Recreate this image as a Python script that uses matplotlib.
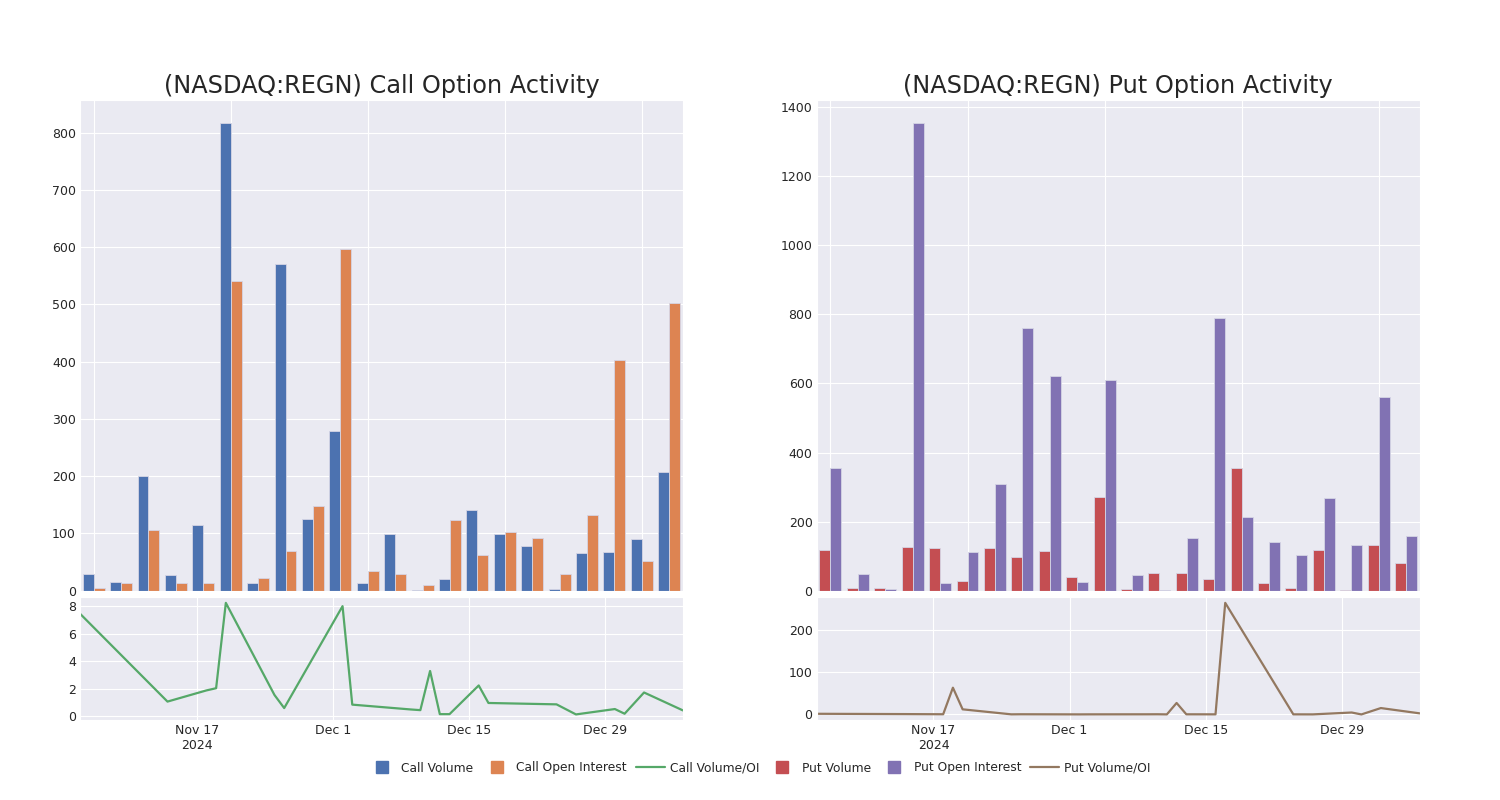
"""
plot.py - REGN call/put option activity (bars + Volume/OI line)
"""

import numpy as np
import pandas as pd
import matplotlib
matplotlib.use("Agg")
import matplotlib.pyplot as plt
from matplotlib.lines import Line2D
import seaborn as sns

# ==================== Data ====================
dates = ["2024-11-05", "2024-11-14", "2024-11-18", "2024-11-19", "2024-11-20",
         "2024-11-25", "2024-11-26", "2024-12-02", "2024-12-03", "2024-12-09",
         "2024-12-10", "2024-12-11", "2024-12-12", "2024-12-13", "2024-12-16",
         "2024-12-17", "2024-12-24", "2024-12-26", "2024-12-30", "2024-12-31",
         "2025-01-02", "2025-01-06"]

call_volume = [29, 15, 200, 28, 115, 816, 13, 571, 126, 278, 14,
               99, 1, 20, 141, 99, 78, 3, 66, 67, 90, 208]
call_oi = [4, 14, 106, 13, 13, 541, 22, 70, 148, 597, 35,
           29, 10, 123, 63, 102, 92, 30, 132, 403, 52, 502]
call_vol_oi = [7.46, 1.08, 1.89, 2.05, 8.24, 1.56, 0.61, 8.0, 0.86, 0.51, 0.46,
               3.3, 0.17, 0.17, 2.25, 0.98, 0.88, 0.15, 0.54, 0.2, 1.74, 0.44]

put_volume = [119, 9, 9, 127, 123, 27, 123, 99, 114, 40, 270,
              4, 52, 52, 35, 355, 22, 8, 119, 3, 131, 81]
put_oi = [355, 47, 5, 1353, 21, 111, 310, 762, 621, 25, 611,
          46, 2, 154, 790, 213, 140, 103, 269, 133, 560, 158]
put_vol_oi = [1.5, 0.8, 0.4, 63, 12, 0.2, 0.4, 0.1, 0.2, 0.3, 0.4,
              0.1, 27, 0.3, 0.2, 263, 0.2, 0.1, 4.5, 0.0, 15, 2.5]

date_ticks = ["2024-11-17", "2024-12-01", "2024-12-15", "2024-12-29"]
date_tick_labels = ["Nov 17\n2024", "Dec 1", "Dec 15", "Dec 29"]

# ==================== Style ====================
sns.set_style("darkgrid")
plt.rcParams['font.family'] = ['DejaVu Sans']
plt.rcParams['xtick.labelsize'] = 9
plt.rcParams['ytick.labelsize'] = 9

pal = sns.color_palette("deep")
C_CALL, C_CALL_OI, C_CALL_LINE = pal[0], pal[1], pal[2]
C_PUT, C_PUT_OI, C_PUT_LINE = pal[3], pal[4], pal[5]

fig = plt.figure(figsize=(15, 8), dpi=100)

dt = pd.to_datetime(dates)
idx = np.arange(len(dates))


def draw_panel(left, vol, oi, ratio, c_vol, c_oi, c_line, title, yticks_line):
    ax_bar = fig.add_axes([left, 0.2616, 0.402, 0.6134])
    ax_line = fig.add_axes([left, 0.1, 0.402, 0.1534])

    # bars on categorical positions
    w = 0.4
    ax_bar.bar(idx - w / 2, vol, width=w, color=c_vol, edgecolor="#d5d5e5", linewidth=0.6)
    ax_bar.bar(idx + w / 2, oi, width=w, color=c_oi, edgecolor="#d5d5e5", linewidth=0.6)
    ax_bar.set_xlim(-0.5, len(idx) - 0.5)
    ax_bar.set_ylim(0, max(max(vol), max(oi)) * 1.05)
    ax_bar.set_xticks([0, 5, 10, 15, 20])
    ax_bar.set_xticklabels([])
    ax_bar.tick_params(axis='both', length=0, pad=3)
    ax_bar.set_title(title, fontsize=17.3, pad=5)

    # volume / OI line on real dates
    ax_line.plot(dt, ratio, color=c_line, lw=1.6)
    ax_line.set_xlim(dt[0], dt[-1])
    ax_line.set_xticks(pd.to_datetime(date_ticks))
    ax_line.set_xticklabels(date_tick_labels)
    ax_line.set_yticks(yticks_line)
    ax_line.tick_params(axis='both', length=0, pad=3)
    return ax_bar, ax_line


draw_panel(0.0533, call_volume, call_oi, call_vol_oi, C_CALL, C_CALL_OI, C_CALL_LINE,
           "(NASDAQ:REGN) Call Option Activity", [0, 2, 4, 6, 8])
draw_panel(0.5445, put_volume, put_oi, put_vol_oi, C_PUT, C_PUT_OI, C_PUT_LINE,
           "(NASDAQ:REGN) Put Option Activity", [0, 100, 200])

# ==================== Legend ====================
def square(c, label):
    return Line2D([], [], ls="none", marker="s", markersize=9, color=c, label=label)

handles = [
    square(C_CALL, "Call Volume"),
    square(C_CALL_OI, "Call Open Interest"),
    Line2D([], [], color=C_CALL_LINE, lw=1.6, label="Call Volume/OI"),
    square(C_PUT, "Put Volume"),
    square(C_PUT_OI, "Put Open Interest"),
    Line2D([], [], color=C_PUT_LINE, lw=1.6, label="Put Volume/OI"),
]
fig.legend(handles=handles, loc="center", bbox_to_anchor=(0.506, 0.04), ncol=6,
           frameon=False, fontsize=8.8, handlelength=2.4, handletextpad=0.4,
           columnspacing=0.7)

fig.savefig("out.png", dpi=100)
